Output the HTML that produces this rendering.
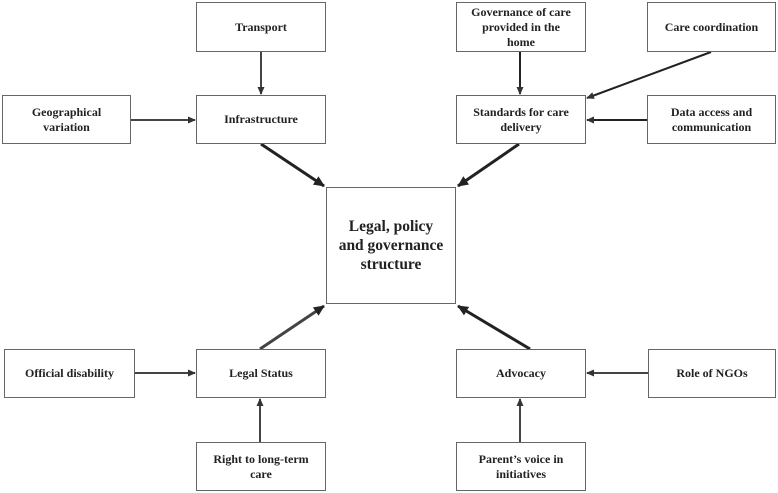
<!DOCTYPE html>
<html><head><meta charset="utf-8"><style>
body{margin:0;background:#fff;}
.b{position:absolute;box-sizing:border-box;border:1.5px solid #666;background:#fff;display:flex;align-items:center;justify-content:center;text-align:center;font-family:"Liberation Serif",serif;font-weight:bold;font-size:12px;line-height:15px;color:#222;}
</style></head><body>
<div style="position:relative;width:778px;height:493px;overflow:hidden">
<svg width="778" height="493" style="position:absolute;left:0;top:0">
<defs><marker id="a" markerWidth="8" markerHeight="8" refX="7" refY="4" orient="auto" markerUnits="userSpaceOnUse"><path d="M0,0.5 L8,4 L0,7.5z" fill="#333"/></marker>
<marker id="c" markerWidth="11" markerHeight="10" refX="10" refY="5" orient="auto" markerUnits="userSpaceOnUse"><path d="M0,0 L11,5 L0,10z" fill="#222"/></marker></defs>
<g stroke="#444" stroke-width="2" fill="none">
<line x1="261" y1="52" x2="261" y2="94" marker-end="url(#a)"/>
<line x1="131" y1="120" x2="195" y2="120" marker-end="url(#a)"/>
<line x1="520" y1="52" x2="520" y2="94" marker-end="url(#a)" stroke="#222"/>
<line x1="711" y1="52" x2="587" y2="98" marker-end="url(#a)" stroke="#222"/>
<line x1="647" y1="120" x2="587" y2="120" marker-end="url(#a)" stroke="#222"/>
<line x1="134" y1="373" x2="195" y2="373" marker-end="url(#a)"/>
<line x1="648" y1="373" x2="587" y2="373" marker-end="url(#a)"/>
<line x1="260" y1="442" x2="260" y2="399" marker-end="url(#a)"/>
<line x1="520" y1="442" x2="520" y2="399" marker-end="url(#a)"/>
</g>
<g stroke="#222" stroke-width="3" fill="none">
<line x1="261" y1="144" x2="324" y2="186" marker-end="url(#c)"/>
<line x1="519" y1="144" x2="458" y2="186" marker-end="url(#c)"/>
<line x1="260" y1="349" x2="324" y2="306" marker-end="url(#c)" stroke="#444"/>
<line x1="530" y1="349" x2="458" y2="306" marker-end="url(#c)"/>
</g>
</svg>
<div class="b" style="left:196px;top:2px;width:130px;height:50px">Transport</div>
<div class="b" style="left:2px;top:95px;width:129px;height:49px">Geographical<br>variation</div>
<div class="b" style="left:196px;top:95px;width:130px;height:49px">Infrastructure</div>
<div class="b" style="left:456px;top:2px;width:130px;height:50px">Governance of care<br>provided in the<br>home</div>
<div class="b" style="left:647px;top:2px;width:129px;height:50px">Care coordination</div>
<div class="b" style="left:456px;top:95px;width:130px;height:49px">Standards for care<br>delivery</div>
<div class="b" style="left:647px;top:95px;width:129px;height:49px">Data access and<br>communication</div>
<div class="b" style="left:326px;top:187px;width:130px;height:117px;font-size:15.5px;line-height:19px">Legal, policy<br>and governance<br>structure</div>
<div class="b" style="left:4px;top:349px;width:131px;height:49px">Official disability</div>
<div class="b" style="left:196px;top:349px;width:130px;height:49px">Legal Status</div>
<div class="b" style="left:456px;top:349px;width:130px;height:49px">Advocacy</div>
<div class="b" style="left:648px;top:349px;width:128px;height:49px">Role of NGOs</div>
<div class="b" style="left:196px;top:442px;width:130px;height:49px">Right to long-term<br>care</div>
<div class="b" style="left:456px;top:442px;width:130px;height:49px">Parent’s voice in<br>initiatives</div>
</div>
</body></html>
